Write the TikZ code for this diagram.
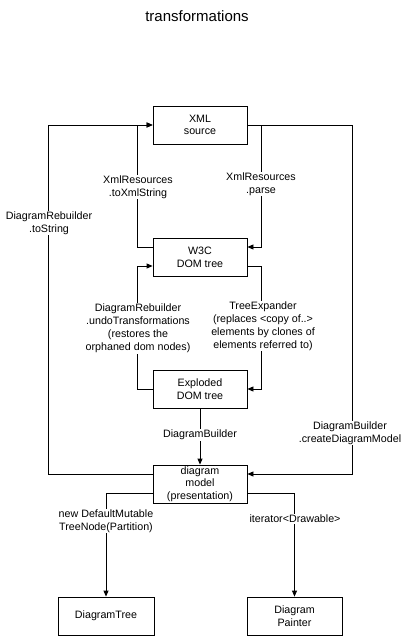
\documentclass[tikz,border=0pt]{standalone}
\usepackage{fontspec}
\setmainfont{Liberation Sans}
\usetikzlibrary{positioning,arrows.meta}

\begin{document}
\begin{tikzpicture}[x=1pt,y=-1pt,line width=0.8pt,
    box/.style={draw,minimum width=94pt,minimum height=38pt,align=center,inner sep=1pt,
        font=\fontsize{10.7}{12.6}\selectfont},
    lbl/.style={fill=white,align=center,inner sep=1pt,font=\fontsize{10.7}{13}\selectfont},
    flow/.style={-{Triangle[length=6pt,width=5pt]}}]
\useasboundingbox (0,0) rectangle (408,636);
\node (title) at (197,16) {\fontsize{15}{18}\selectfont transformations};
% boxes
\node[box] (xml) at (200,125) {XML\\source};
\node[box] (w3c) at (200,257.5) {W3C\\DOM tree};
\node[box] (exploded) at (200,389) {Exploded\\DOM tree};
\node[box] (model) at (200,484) {diagram\\model\\(presentation)};
\node[box,minimum width=96pt] (tree) at (106,616) {DiagramTree};
\node[box,minimum width=95pt] (painter) at (294.5,616) {Diagram\\Painter};
% connectors
\draw[flow] (xml.east) -- ++(14,0) |- ([yshift=10.5pt]w3c.east);
\draw[flow] (xml.east) -- ++(105,0) |- ([yshift=10pt]model.east);
\draw[flow] ([yshift=10.5pt]w3c.west) -- ++(-15,0) |- (xml.west);
\draw[flow] ([yshift=10pt]model.west) -- ++(-104,0) |- (xml.west);
\draw[flow] ([yshift=-8.5pt]w3c.east) -- ++(14,0) |- (exploded.east);
\draw[flow] (exploded.west) -- ++(-15,0) |- ([yshift=-8.5pt]w3c.west);
\draw[flow] (exploded.south) -- (model.north);
\draw[flow] ([yshift=-9pt]model.west) -| (tree.north);
\draw[flow] ([yshift=-9pt]model.east) -| (painter.north);
% labels
\node[lbl] (toxml) at (138,187) {XmlResources\\.toXmlString};
\node[lbl] (parse) at (261,184) {XmlResources\\.parse};
\node[lbl] (tostring) at (49,223) {DiagramRebuilder\\.toString};
\node[lbl] (undo) at (138,328.5) {DiagramRebuilder\\.undoTransformations\\(restores the\\orphaned dom nodes)};
\node[lbl] (expand) at (263,326) {TreeExpander\\(replaces <copy of..>\\elements by clones of\\elements referred to)};
\node[lbl] (build) at (200,435) {DiagramBuilder};
\node[lbl] (create) at (350,433) {DiagramBuilder\\.createDiagramModel};
\node[lbl] (mutable) at (106,521) {new DefaultMutable\\TreeNode(Partition)};
\node[lbl] (iter) at (295,519) {iterator<Drawable>};
\end{tikzpicture}
\end{document}
